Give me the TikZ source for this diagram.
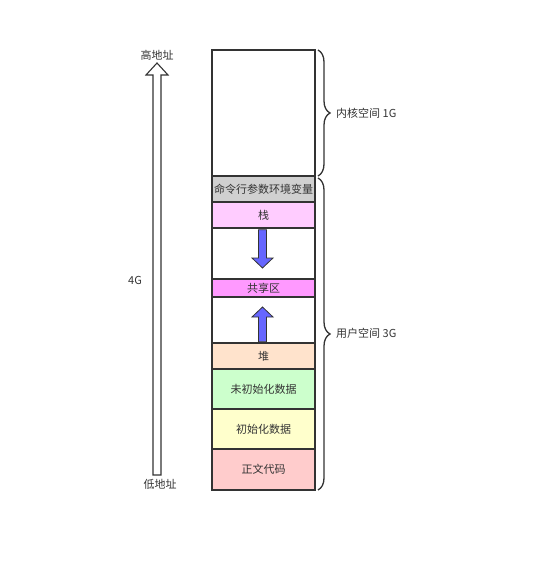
\documentclass[tikz,border=0pt]{standalone}
\usepackage{fontspec}
\setmainfont{Noto Sans CJK SC}
\usetikzlibrary{decorations.pathreplacing,calc}
\definecolor{edge}{HTML}{333333}
\definecolor{txt}{HTML}{333333}
\definecolor{envc}{HTML}{D0D0D0}
\definecolor{stackc}{HTML}{FFCCFF}
\definecolor{sharedc}{HTML}{FF99FF}
\definecolor{heapc}{HTML}{FFE3CC}
\definecolor{bssc}{HTML}{CCFFCC}
\definecolor{datac}{HTML}{FFFFCC}
\definecolor{textc}{HTML}{FFCCCC}
\definecolor{bluec}{HTML}{6666FF}
\begin{document}
\begin{tikzpicture}[x=1pt,y=-1pt,
  cell/.style={draw=edge,line width=1.4pt,minimum width=103pt,inner sep=0pt,
    font=\fontsize{11}{13}\selectfont,text=txt},
  lbl/.style={font=\fontsize{11}{13}\selectfont,text=txt,inner sep=0pt},
  bracestyle/.style={draw=edge,line width=1.3pt,decorate,decoration={brace,amplitude=12pt,aspect=0.5}},
  bluearrow/.style={draw=edge,fill=bluec,line width=0.8pt,line join=miter},
  hollowarrow/.style={draw=edge,fill=white,line width=1.1pt,line join=miter}]
\useasboundingbox (0,0) rectangle (541,578);
% column cells
\node[cell,minimum height=126pt] (kernel) at (263.5,113) {};
\node[cell,fill=envc,minimum height=26pt] (env) at (263.5,189) {命令行参数环境变量};
\node[cell,fill=stackc,minimum height=26pt] (stack) at (263.5,215) {栈};
\node[cell,minimum height=51pt] (gapa) at (263.5,253.5) {};
\node[cell,fill=sharedc,minimum height=18pt] (shared) at (263.5,288) {共享区};
\node[cell,minimum height=46pt] (gapb) at (263.5,320) {};
\node[cell,fill=heapc,minimum height=26pt] (heap) at (263.5,356) {堆};
\node[cell,fill=bssc,minimum height=40pt] (bss) at (263.5,389) {未初始化数据};
\node[cell,fill=datac,minimum height=40pt] (data) at (263.5,429) {初始化数据};
\node[cell,fill=textc,minimum height=41pt] (text) at (263.5,469.5) {正文代码};
% blue arrows
\coordinate (dtop) at ($(stack.south)+(-1,1)$);
\coordinate (dtip) at (262.5,268);
\draw[bluearrow] ($(dtop)+(-4,0)$) -- ($(dtop)+(4,0)$) -- (266.5,258) -- (273,258)
  -- (dtip) -- (252,258) -- (258.5,258) -- cycle;
\coordinate (ubot) at ($(heap.north)+(-1,-0.6)$);
\coordinate (utip) at (262.5,307);
\draw[bluearrow] ($(ubot)+(-4,0)$) -- ($(ubot)+(4,0)$) -- (266.5,317) -- (273,317)
  -- (utip) -- (252,317) -- (258.5,317) -- cycle;
% big hollow arrow
\coordinate (low) at (157,475);
\coordinate (high) at (157,63);
\draw[hollowarrow] ($(low)+(-4,0)$) -- ($(low)+(4,0)$) -- (161,75) -- (168,75)
  -- (high) -- (146,75) -- (153,75) -- cycle;
\node[lbl] (hi) at (157,55) {高地址};
\node[lbl] (lo) at (160,484) {低地址};
\node[lbl] (four) at (135,280) {4G};
% braces
\draw[bracestyle] (318,50) -- (318,176);
\draw[bracestyle] (318,178) -- (318,490);
\node[lbl,anchor=west] (klabel) at (336,113) {内核空间 1G};
\node[lbl,anchor=west] (ulabel) at (336,333) {用户空间 3G};
\end{tikzpicture}
\end{document}
